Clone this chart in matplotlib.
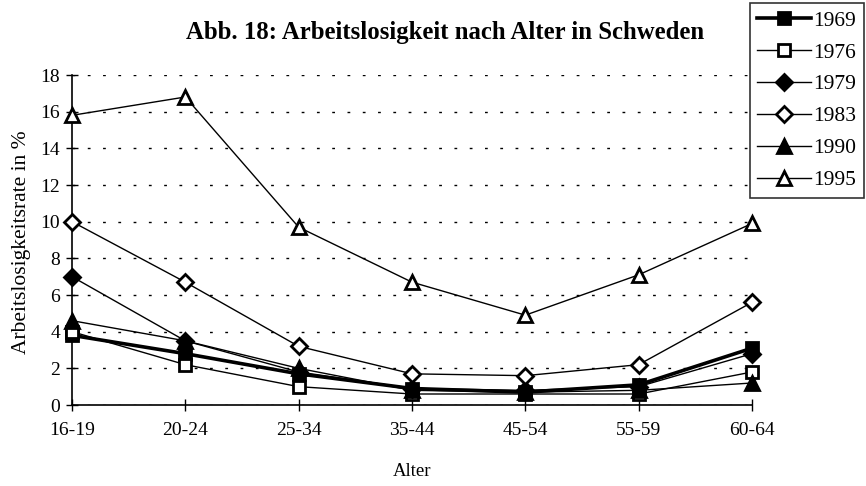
import numpy as np
import matplotlib.pyplot as plt

plt.rcParams['font.family'] = ['Liberation Serif', 'DejaVu Serif']

# Altersgruppen und Arbeitslosenquoten (in %)
alter = ['16-19', '20-24', '25-34', '35-44', '45-54', '55-59', '60-64']
jahre = ['1969', '1976', '1979', '1983', '1990', '1995']
w1969 = [3.8, 2.8, 1.7, 0.9, 0.7, 1.1, 3.1]
w1976 = [4.0, 2.2, 1.0, 0.6, 0.6, 0.6, 1.8]
w1979 = [7.0, 3.5, 1.8, 0.9, 0.8, 1.0, 2.8]
w1983 = [10.0, 6.7, 3.2, 1.7, 1.6, 2.2, 5.6]
w1990 = [4.6, 3.5, 2.0, 0.8, 0.7, 0.8, 1.2]
w1995 = [15.8, 16.8, 9.7, 6.7, 4.9, 7.1, 9.9]
werte = [w1969, w1976, w1979, w1983, w1990, w1995]

# marker, filled?, line width
stile = [('s', True, 2.6), ('s', False, 1.0), ('D', True, 1.0),
         ('D', False, 1.0), ('^', True, 1.0), ('^', False, 1.0)]

fig = plt.figure(figsize=(8.66, 4.86), dpi=100)
ax = fig.add_axes([72/866, 1-405/486, 680/866, 330/486])

x = np.arange(len(alter))
for jahr, w, (m, voll, lw) in zip(jahre, werte, stile):
    ms = 9 if m == 's' else (8 if m == 'D' else 9.5)
    ax.plot(x, w, color='black', lw=lw, marker=m, markersize=ms,
            markerfacecolor='black' if voll else 'white',
            markeredgecolor='black', markeredgewidth=2.0,
            label=jahr, clip_on=False, zorder=3)

ax.set_xlim(0, len(alter) - 1)
ax.set_ylim(0, 18)
ax.set_yticks(range(0, 19, 2))
ax.set_xticks(x)
ax.set_xticklabels(alter)
ax.tick_params(direction='inout', length=9, width=1, labelsize=14, color='black')
ax.tick_params(axis='y', pad=4)
ax.tick_params(axis='x', pad=8)
ax.yaxis.grid(True, color='black', linestyle=(0, (2, 9)), linewidth=1.0)
ax.set_axisbelow(True)
for s in ['top', 'right']:
    ax.spines[s].set_visible(False)
for s in ['left', 'bottom']:
    ax.spines[s].set_linewidth(1.2)

fig.text(445/866, 1-33/486, 'Abb. 18: Arbeitslosigkeit nach Alter in Schweden',
         ha='center', va='center', fontsize=17.8, fontweight='bold')
fig.text(22/866, 1-242/486, 'Arbeitslosigkeitsrate in %', rotation=90,
         ha='center', va='center', fontsize=15.5)
fig.text(412/866, 1-471/486, 'Alter', ha='center', va='center', fontsize=13.5)

leg = fig.legend(loc='upper right', bbox_to_anchor=(864/866, 1-3/486),
                 fontsize=15.5, frameon=True, fancybox=False, edgecolor='black',
                 handlelength=2.5, labelspacing=0.55, handletextpad=0.1,
                 borderpad=0.35, borderaxespad=0)
leg.get_frame().set_linewidth(1.2)

fig.savefig('out.png', dpi=100)
